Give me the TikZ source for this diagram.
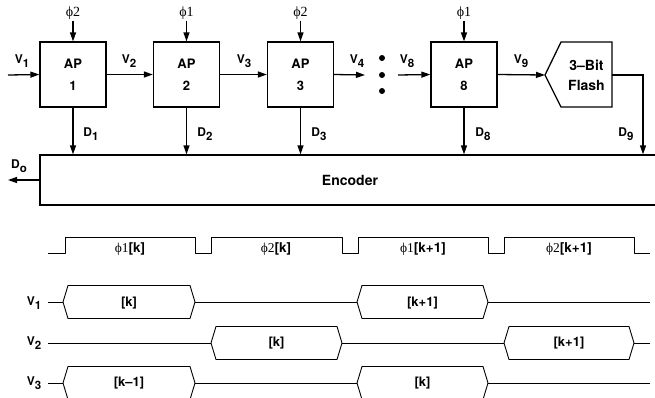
\documentclass[tikz,border=0pt]{standalone}
\usepackage{fontspec}
\setsansfont{TeX Gyre Heros}
\newfontfamily\phifont{Liberation Serif}
\usetikzlibrary{arrows.meta}
\tikzset{
  x=1pt,y=-1pt,
  arr/.style={line width=1.3pt,-{Triangle[length=9pt,width=6pt]}},
  apbox/.style={draw,line width=1.3pt,minimum width=66pt,minimum height=65pt,inner sep=0pt,align=center,font=\sffamily\bfseries\fontsize{13}{22}\selectfont},
  lbl/.style={font=\sffamily\bfseries\fontsize{12}{14}\selectfont,inner sep=1pt},
  blbl/.style={font=\sffamily\bfseries\fontsize{13}{14}\selectfont,inner sep=1pt},
  phl/.style={font=\phifont\fontsize{14}{14}\selectfont,inner sep=1pt},
  tlbl/.style={font=\fontsize{13.5}{14}\selectfont,inner sep=0pt},
  wave/.style={line width=0.9pt,line join=round},
}
\newcommand\phisym{\phifont ϕ}
\newcommand\sbs[1]{\raisebox{-3.5pt}{\fontsize{11.5}{12}\selectfont #1}}
\newcommand\hexbus[4]{\draw[wave] (#1,#3) -- (#1+5,#3-#4) -- (#2-5,#3-#4) -- (#2,#3) -- (#2-5,#3+#4) -- (#1+5,#3+#4) -- cycle;}
\begin{document}
\begin{tikzpicture}
\useasboundingbox (0,0) rectangle (655,397);
\clip (0,0) rectangle (655,397);
% AP boxes
\node[apbox] (ap1) at (73,74.5) {AP\\1};
\node[apbox] (ap2) at (186.5,74.5) {AP\\2};
\node[apbox] (ap3) at (300.5,74.5) {AP\\3};
\node[apbox] (ap8) at (464,74.5) {AP\\8};
% flash
\coordinate (fl) at (545,75);
\coordinate (flr) at (612,75);
\draw[line width=1.3pt,line join=miter] (fl) -- (561,42) -- (612,42) -- (612,107) -- (561,107) -- cycle;
\node[align=center,font=\sffamily\bfseries\fontsize{14}{20}\selectfont] (flash) at (586.5,75.5) {3–Bit\\Flash};
% encoder
\node[draw,line width=1.3pt,minimum width=620pt,minimum height=50pt,inner sep=0pt,font=\sffamily\bfseries\fontsize{14}{14}\selectfont] (enc) at (350,180) {Encoder};
% clocks
\node[phl] (ph1) at (73,13) {ϕ2};
\node[phl] (ph2) at (186.5,13) {ϕ1};
\node[phl] (ph3) at (300.5,13) {ϕ2};
\node[phl] (ph8) at (464,13) {ϕ1};
\foreach \i in {1,2,3,8} {\draw[arr] (ph\i.south) -- (ap\i.north);}
% V signals
\coordinate (vin) at (8,75);
\draw[arr] (vin) -- (ap1.west);
\draw[arr] (ap1.east) -- (ap2.west);
\draw[arr] (ap2.east) -- (ap3.west);
\coordinate (v4end) at (365,75);
\coordinate (v8start) at (398,75);
\draw[arr] (ap3.east) -- (v4end);
\draw[arr] (v8start) -- (ap8.west);
\draw[arr] (ap8.east) -- (fl);
\foreach \yy [count=\n] in {58,75,91} {\fill (382,\yy) circle (3pt) coordinate (dot\n);}
\node[lbl] (lv1) at (22,61) {V\sbs{1}};
\node[lbl] (lv2) at (129,61) {V\sbs{2}};
\node[lbl] (lv3) at (244,61) {V\sbs{3}};
\node[lbl] (lv4) at (357,61) {V\sbs{4}};
\node[lbl] (lv8) at (407,61) {V\sbs{8}};
\node[lbl] (lv9) at (521,61) {V\sbs{9}};
% D signals
\foreach \i in {1,2,3,8} {\draw[arr] (ap\i.south) -- (ap\i.south |- enc.north);}
\coordinate (d9c) at (643,75);
\draw[arr] (flr) -- (d9c) -- (d9c |- enc.north);
\node[lbl] (ld1) at (91,134) {D\sbs{1}};
\node[lbl] (ld2) at (205,134) {D\sbs{2}};
\node[lbl] (ld3) at (319,134) {D\sbs{3}};
\node[lbl] (ld8) at (483,134) {D\sbs{8}};
\node[lbl] (ld9) at (626,134) {D\sbs{9}};
\coordinate (dout) at (8,180);
\draw[arr] (enc.west) -- (dout);
\node[lbl] (ldo) at (19,166) {D\sbs{o}};
% timing: clock
\draw[wave] (48,253) -- (65,253) -- (65,237) -- (195,237) -- (195,253) -- (211,253) -- (211,237) -- (342,237) -- (342,253) -- (358,253) -- (358,237) -- (488,237) -- (488,253) -- (504,253) -- (504,237) -- (634,237) -- (634,253) -- (650,253);
\node[tlbl] (c1) at (130,249) {\phisym 1\sffamily\bfseries[k]};
\node[tlbl] (c2) at (276,249) {\phisym 2\sffamily\bfseries[k]};
\node[tlbl] (c3) at (423,249) {\phisym 1\sffamily\bfseries[k+1]};
\node[tlbl] (c4) at (569,249) {\phisym 2\sffamily\bfseries[k+1]};
% V1
\draw[wave] (48,302) -- (63,302) (195,302) -- (357,302) (488,302) -- (650,302);
\hexbus{63}{195}{302}{16.5}
\hexbus{357}{488}{302}{16.5}
\node[blbl] (t11) at (129,303) {[k]};
\node[blbl] (t12) at (422.5,303) {[k+1]};
% V2
\draw[wave] (48,343) -- (211,343) (342,343) -- (504,343) (634,343) -- (650,343);
\hexbus{211}{342}{343}{16.5}
\hexbus{504}{634}{343}{16.5}
\node[blbl] (t21) at (276.5,343) {[k]};
\node[blbl] (t22) at (569,343) {[k+1]};
% V3
\draw[wave] (48,383) -- (63,383) (195,383) -- (357,383) (488,383) -- (650,383);
\hexbus{63}{195}{383}{16.5}
\hexbus{357}{488}{383}{16.5}
\node[blbl] (t31) at (129,383) {[k–1]};
\node[blbl] (t32) at (422.5,383) {[k]};
% waveform names
\node[lbl] (w1) at (34,303) {V\sbs{1}};
\node[lbl] (w2) at (34,343) {V\sbs{2}};
\node[lbl] (w3) at (34,383) {V\sbs{3}};
\end{tikzpicture}
\end{document}
